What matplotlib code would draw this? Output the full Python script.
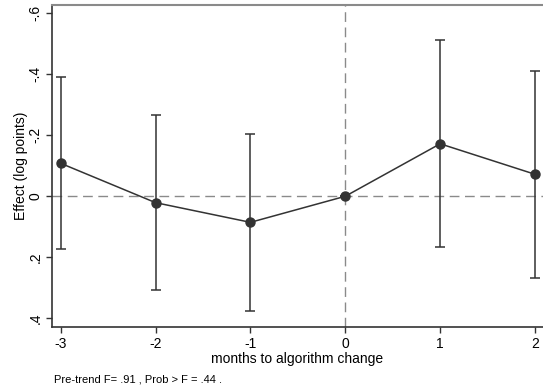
import numpy as np
import matplotlib
matplotlib.use('Agg')
import matplotlib.pyplot as plt

# 事件研究估计值
months = [-3, -2, -1, 0, 1, 2]
effect = [-0.108, 0.021, 0.0855, 0.0, -0.172, -0.072]
ci_low = [-0.392, -0.265, -0.205, 0.0, -0.511, -0.411]
ci_high = [0.174, 0.308, 0.376, 0.0, 0.165, 0.267]
yticks = [-0.6, -0.4, -0.2, 0, 0.2, 0.4]
ytick_labels = ['-.6', '-.4', '-.2', '0', '.2', '.4']
note = 'Pre-trend F= .91 , Prob > F = .44 .'

plt.rcParams['font.family'] = ['Liberation Sans', 'DejaVu Sans']

fig = plt.figure(figsize=(5.43, 3.86), dpi=100)
ax = fig.add_axes([52 / 543, 59 / 386, 491 / 543, 322 / 386])

# 参考线
ax.axhline(0, color='#8a8a8a', lw=1.0, dashes=(7, 4), zorder=1)
ax.axvline(0, color='#8a8a8a', lw=1.0, dashes=(7, 4), zorder=1)

# 置信区间
eff = np.array(effect)
err = [eff - np.array(ci_low), np.array(ci_high) - eff]
ax.errorbar(months, effect, yerr=err, fmt='none', ecolor='#333333',
            elinewidth=1.1, capsize=3.3, capthick=1.1, zorder=2)
ax.plot(months, effect, color='#333333', lw=1.1, marker='o', ms=6.5,
        mfc='#333333', mec='#333333', zorder=3)

ax.set_xlim(-3.092, 2.084)
ax.set_ylim(0.4286, -0.627)
ax.set_yticks(yticks)
ax.set_yticklabels(ytick_labels, rotation=90, va='center')
ax.set_xticks(months)
ax.set_xticklabels([str(m) for m in months])
ax.tick_params(direction='out', length=4, width=1, colors='#333333',
               labelsize=10, labelcolor='black', pad=3)

for s in ['left', 'bottom']:
    ax.spines[s].set_color('#333333')
    ax.spines[s].set_linewidth(1.2)
ax.spines['top'].set_color('#8a8a8a')
ax.spines['top'].set_linewidth(1.5)
ax.spines['right'].set_visible(False)

ax.set_xlabel('months to algorithm change', fontsize=10, labelpad=1)
ax.set_ylabel('Effect (log points)', fontsize=10, labelpad=0.5)

fig.text(54 / 543, 1 - 379 / 386, note, fontsize=8, va='center', ha='left')

fig.savefig('out.png', dpi=100)
